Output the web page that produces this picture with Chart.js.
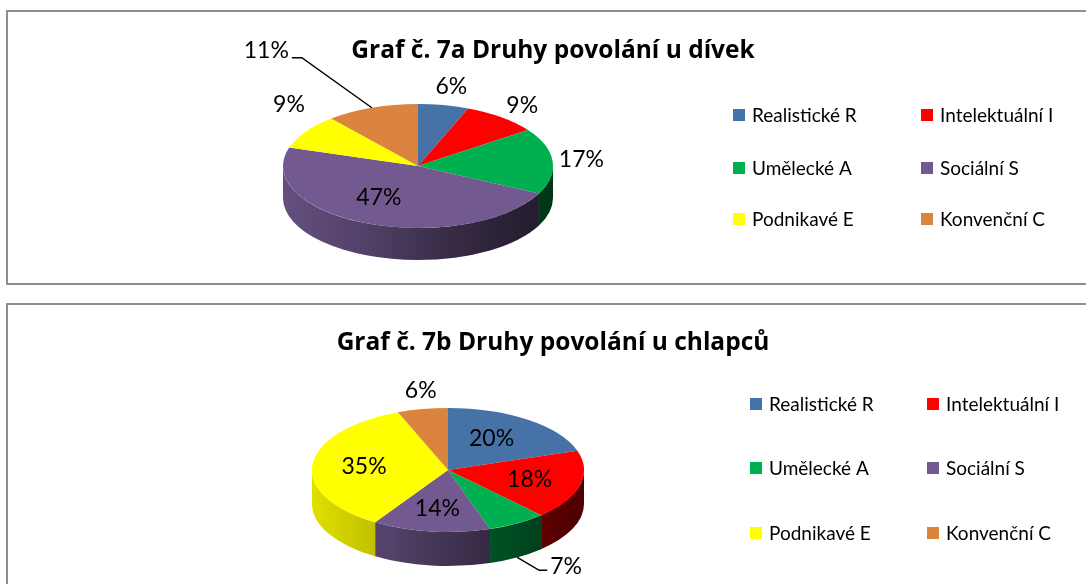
<!DOCTYPE html>
<html>
<head>
<meta charset="utf-8">
<title>Druhy povolání</title>
<script src="https://cdn.jsdelivr.net/npm/chart.js@4/dist/chart.umd.min.js"></script>
<style>
    html, body { margin: 0; padding: 0; background: #fff; overflow: hidden; }
    .panel { position: absolute; left: 6px; width: 1094px; border: 2px solid #8e8e8e; box-sizing: border-box; background: #fff; }
    #panelA { top: 10px; height: 275px; }
    #panelB { top: 303px; height: 300px; }
    canvas { display: block; }
</style>
</head>
<body>
<div class="panel" id="panelA"><canvas id="chartA" width="1090" height="271"></canvas></div>
<div class="panel" id="panelB"><canvas id="chartB" width="1090" height="296"></canvas></div>

<script>
// Data (in %)
const categories = ['Realistické R', 'Intelektuální I', 'Umělecké A', 'Sociální S', 'Podnikavé E', 'Konvenční C'];
const girlsValues = [6, 9, 17, 47, 9, 11];
const boysValues = [20, 18, 7, 14, 35, 6];
const sliceColors = ['#4672a8', '#ff0000', '#00b050', '#725a90', '#ffff00', '#db843d'];

Chart.defaults.font.family = 'Lato';
Chart.defaults.color = '#000';

// darken a hex colour by factor f
function shade(hex, f) {
    const n = parseInt(hex.slice(1), 16);
    const r = Math.round(((n >> 16) & 255) * f);
    const g = Math.round(((n >> 8) & 255) * f);
    const b = Math.round((n & 255) * f);
    return 'rgb(' + r + ',' + g + ',' + b + ')';
}

// 1. fake 3D: draw the front wall, then squash the library's pie into an ellipse
function pie3dPlugin(geo) {
    return {
        id: 'pie3d',
        beforeDatasetsDraw(chart) {
            const ctx = chart.ctx;
            const arcs = chart.getDatasetMeta(0).data;
            const colors = chart.data.datasets[0].backgroundColor;
            const cx = geo.cx, cy = geo.cy, rx = geo.rx, ry = geo.ry, d = geo.depth;

            arcs.forEach(function (arc, i) {
                const a = Math.max(arc.startAngle, 0);
                const b = Math.min(arc.endAngle, Math.PI);
                if (b <= a) return;
                const grad = ctx.createLinearGradient(cx - rx, 0, cx + rx, 0);
                grad.addColorStop(0, shade(colors[i], 0.88));
                grad.addColorStop(0.3, shade(colors[i], 0.72));
                grad.addColorStop(0.6, shade(colors[i], 0.5));
                grad.addColorStop(0.85, shade(colors[i], 0.36));
                grad.addColorStop(1, shade(colors[i], 0.3));
                ctx.beginPath();
                ctx.ellipse(cx, cy, rx, ry, 0, a, b);
                ctx.ellipse(cx, cy + d, rx, ry, 0, b, a, true);
                ctx.closePath();
                ctx.fillStyle = grad;
                ctx.fill();
            });

            const R = arcs[0].outerRadius;
            ctx.save();
            ctx.translate(cx, cy);
            ctx.scale(rx / R, ry / R);
            ctx.translate(-arcs[0].x, -arcs[0].y);
        },
        afterDatasetsDraw(chart) {
            chart.ctx.restore();
        }
    };
}

// 2. percentage labels (inside, outside or with a leader line)
function labelsPlugin(geo, lab) {
    return {
        id: 'pieLabels',
        afterDraw(chart) {
            const ctx = chart.ctx;
            const arcs = chart.getDatasetMeta(0).data;
            const values = chart.data.datasets[0].data;
            ctx.save();
            ctx.font = lab.size + 'px Lato';
            ctx.fillStyle = '#000';
            ctx.strokeStyle = '#000';
            ctx.lineWidth = 1.5;
            ctx.textBaseline = 'middle';
            ctx.textAlign = 'center';

            arcs.forEach(function (arc, i) {
                const text = values[i] + '%';
                const mid = (arc.startAngle + arc.endAngle) / 2;
                const c = Math.cos(mid), s = Math.sin(mid);
                const mode = lab.modes[i];
                const nudge = (lab.nudge && lab.nudge[i]) || [0, 0];

                if (mode === 'in') {
                    ctx.fillText(text, geo.cx + lab.inside * geo.rx * c + nudge[0], geo.cy + lab.inside * geo.ry * s + nudge[1]);
                    return;
                }

                const ex = geo.cx + geo.rx * c;
                const ey = geo.cy + geo.ry * s + (s > 0 ? geo.depth * s : 0);

                if (mode === 'out') {
                    const w = ctx.measureText(text).width;
                    const h = lab.size * 0.75;
                    const len = Math.hypot(geo.rx * c, geo.ry * s);
                    const ux = geo.rx * c / len, uy = geo.ry * s / len;
                    const ext = Math.abs(ux) * w / 2 + Math.abs(uy) * h / 2 + lab.gap;
                    ctx.fillText(text, ex + ux * ext + nudge[0], ey + uy * ext + nudge[1]);
                    return;
                }

                // leader line
                const L = lab.leaders[i];
                const ax = ex, ay = s > 0 ? geo.cy + geo.ry * s + geo.depth : ey;
                const bx = ax + L.dx, by = ay + L.dy;
                const tx = bx + L.len;
                ctx.beginPath();
                ctx.moveTo(ax, ay);
                ctx.lineTo(bx, by);
                ctx.lineTo(tx, by);
                ctx.stroke();
                ctx.textAlign = L.len > 0 ? 'left' : 'right';
                ctx.fillText(text, tx + (L.len > 0 ? 3 : -3), by + L.ty);
                ctx.textAlign = 'center';
            });
            ctx.restore();
        }
    };
}

// 3. legend on the right, two columns, row by row
function legendPlugin(leg) {
    return {
        id: 'sideLegend',
        afterDraw(chart) {
            const ctx = chart.ctx;
            const labels = chart.data.labels;
            const colors = chart.data.datasets[0].backgroundColor;
            ctx.save();
            ctx.font = leg.size + 'px Lato';
            ctx.textBaseline = 'middle';
            ctx.textAlign = 'left';
            labels.forEach(function (name, i) {
                const x = leg.cols[i % 2];
                const y = leg.rows[Math.floor(i / 2)];
                ctx.fillStyle = colors[i];
                ctx.fillRect(x, y - leg.box / 2, leg.box, leg.box);
                ctx.fillStyle = '#000';
                ctx.fillText(name, x + leg.box + leg.gap, y + 1);
            });
            ctx.restore();
        }
    };
}

function makeChart(id, title, values, cfg) {
    return new Chart(document.getElementById(id), {
        type: 'pie',
        data: {
            labels: categories,
            datasets: [{
                data: values,
                backgroundColor: sliceColors,
                borderWidth: 0
            }]
        },
        options: {
            responsive: false,
            animation: false,
            events: [],
            plugins: {
                legend: { display: false },
                tooltip: { enabled: false },
                title: {
                    display: true,
                    text: title,
                    color: '#000',
                    font: { family: 'Open Sans', size: 24.5, weight: 'bold' },
                    padding: { top: cfg.titleTop, bottom: 10 }
                }
            }
        },
        plugins: [pie3dPlugin(cfg.pie), labelsPlugin(cfg.pie, cfg.labels), legendPlugin(cfg.legend)]
    });
}

// Graf 7a - dívky
makeChart('chartA', 'Graf č. 7a Druhy povolání u dívek', girlsValues, {
    titleTop: 24,
    pie: { cx: 410, cy: 154, rx: 135, ry: 62, depth: 32 },
    labels: {
        size: 23, inside: 0.62, gap: 6,
        modes: ['out', 'out', 'out', 'in', 'out', 'leader'],
        nudge: { 3: [-8, -4], 4: [6, -20] },
        leaders: { 5: { dx: -70, dy: -50, len: -10, ty: -7 } }
    },
    legend: { cols: [725, 913], rows: [103, 156, 207], box: 12, gap: 7, size: 19 }
});

// Graf 7b - chlapci
makeChart('chartB', 'Graf č. 7b Druhy povolání u chlapců', boysValues, {
    titleTop: 23,
    pie: { cx: 440, cy: 165, rx: 136, ry: 62, depth: 34 },
    labels: {
        size: 23, inside: 0.62, gap: 6,
        modes: ['in', 'in', 'leader', 'in', 'in', 'out'],
        nudge: { 0: [-6, 0], 5: [6, 0] },
        leaders: { 2: { dx: 22, dy: 13, len: 8, ty: -4 } }
    },
    legend: { cols: [742, 919], rows: [99, 163, 228], box: 12, gap: 7, size: 19 }
});
</script>
</body>
</html>
